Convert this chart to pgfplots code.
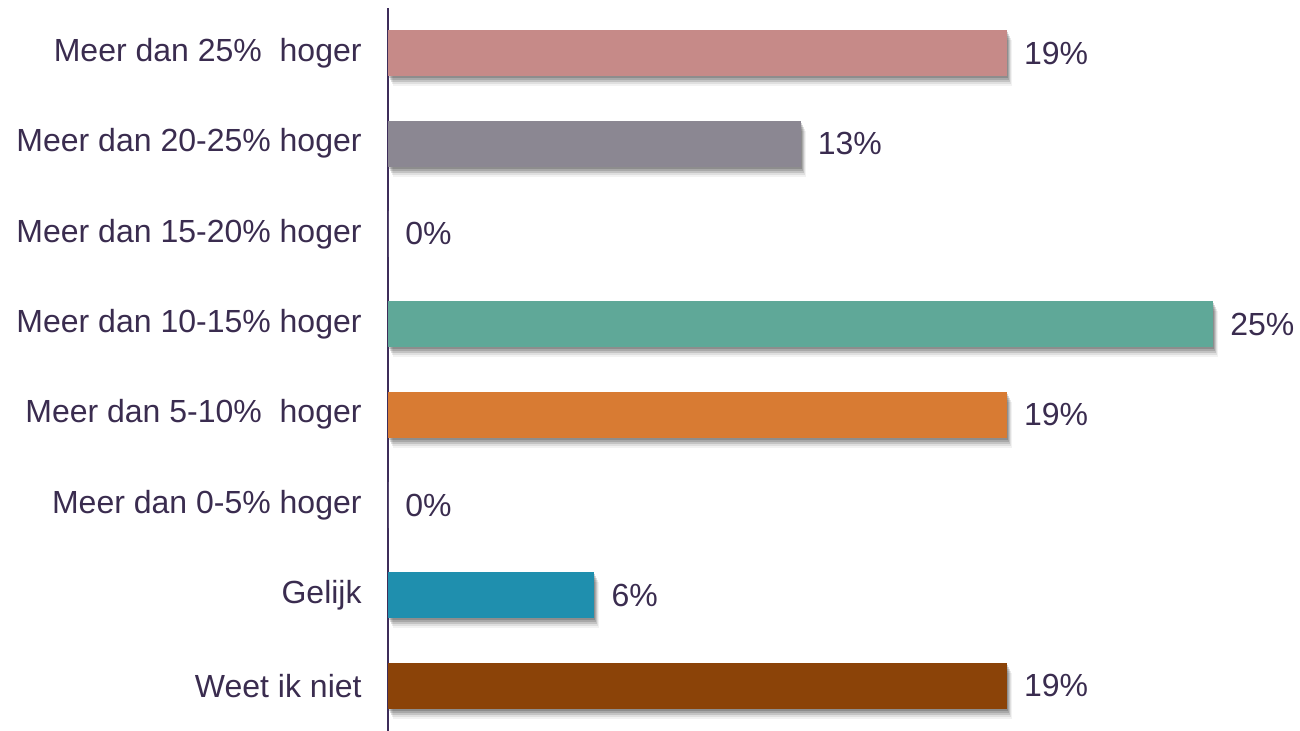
\documentclass[border=0pt]{standalone}
\usepackage{pgfplots}
\pgfplotsset{compat=1.18}
\usepackage{fontspec}
\setmainfont{Liberation Sans}
\definecolor{cpink}{HTML}{C68A88}
\definecolor{cgray}{HTML}{8B8792}
\definecolor{cteal}{HTML}{5FA898}
\definecolor{corange}{HTML}{D87B33}
\definecolor{cblue}{HTML}{1F8FAE}
\definecolor{cbrown}{HTML}{8B4308}
\definecolor{textcol}{HTML}{3A2C4F}
\definecolor{axiscol}{HTML}{3D2D5A}
\tikzset{barshadow/.style={
  preaction={fill=black, fill opacity=0.16, transform canvas={xshift=0.5pt, yshift=-1pt}},
  preaction={fill=black, fill opacity=0.14, transform canvas={xshift=1pt, yshift=-2pt}},
  preaction={fill=black, fill opacity=0.12, transform canvas={xshift=1.5pt, yshift=-3pt}},
  preaction={fill=black, fill opacity=0.08, transform canvas={xshift=2pt, yshift=-4pt}},
  preaction={fill=black, fill opacity=0.05, transform canvas={xshift=2.5pt, yshift=-5pt}}}}
\begin{document}
\begin{tikzpicture}
\begin{axis}[
  scale only axis, width=453.75pt, height=361.5pt,
  xmin=0, xmax=27.5, ymin=-0.5, ymax=7.5,
  axis x line=none, axis y line=left,
  y axis line style={-, draw=axiscol, line width=1pt},
  xbar, bar width=23pt, bar shift=0pt,
  ytick={0,1,2,3,4,5,6,7},
  yticklabels={Weet ik niet, Gelijk, Meer dan 0-5\% hoger, Meer dan 5-10\%~ hoger, Meer dan 10-15\% hoger, Meer dan 15-20\% hoger, Meer dan 20-25\% hoger, Meer dan 25\%~ hoger},
  major tick length=0pt,
  yticklabel style={font=\fontsize{16}{19}\selectfont, text=textcol, inner sep=0pt, xshift=-13pt},
  point meta=explicit symbolic,
  nodes near coords,
  every node near coord/.append style={font=\fontsize{16}{19}\selectfont, text=textcol, anchor=west, inner sep=0pt, xshift=8.5pt},
  clip=false,
]
\addplot[fill=cpink, draw=none, barshadow] coordinates {(18.75,7) [19\%]};
\addplot[fill=cgray, draw=none, barshadow] coordinates {(12.5,6) [13\%]};
\addplot[fill=white, draw=none] coordinates {(0,5) [0\%]};
\addplot[fill=cteal, draw=none, barshadow] coordinates {(25,4) [25\%]};
\addplot[fill=corange, draw=none, barshadow] coordinates {(18.75,3) [19\%]};
\addplot[fill=white, draw=none] coordinates {(0,2) [0\%]};
\addplot[fill=cblue, draw=none, barshadow] coordinates {(6.25,1) [6\%]};
\addplot[fill=cbrown, draw=none, barshadow] coordinates {(18.75,0) [19\%]};
\coordinate (O) at (rel axis cs:0,0);
\end{axis}
\pgfresetboundingbox
\path (O) ++(-194pt,1pt) rectangle ++(650pt,364.5pt);
\end{tikzpicture}
\end{document}
